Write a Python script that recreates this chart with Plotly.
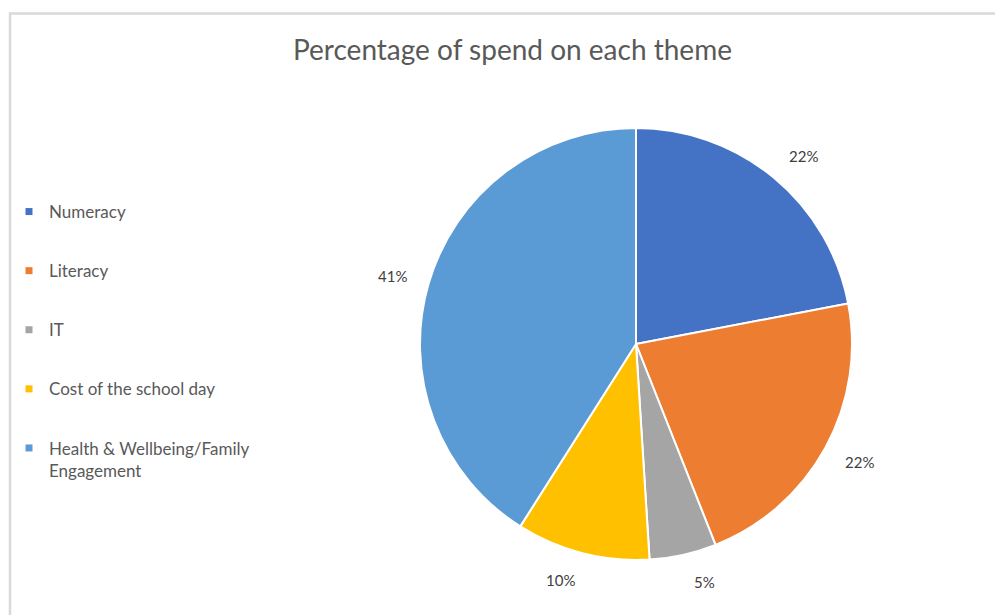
import math
import plotly.graph_objects as go

# Spend share per theme (%)
themes = ["Numeracy", "Literacy", "IT", "Cost of the school day",
          "Health & Wellbeing/Family Engagement"]
legend_text = ["Numeracy", "Literacy", "IT", "Cost of the school day",
               "Health & Wellbeing/Family<br>Engagement"]
spend_pct = [22, 22, 5, 10, 41]
colors = ["#4472C4", "#ED7D31", "#A5A5A5", "#FFC000", "#5B9BD5"]

W, H = 995, 615
FONT = "Lato, 'Open Sans', sans-serif"

# Pie placement in pixels
cx, cy, r = 636, 344, 216


def px_x(v):
    return v / W


def px_y(v):
    return 1 - v / H


fig = go.Figure()

fig.add_trace(go.Pie(
    labels=themes,
    values=spend_pct,
    sort=False,
    direction="clockwise",
    rotation=0,
    marker=dict(colors=colors, line=dict(color="white", width=2)),
    textinfo="none",
    hoverinfo="label+percent",
    showlegend=False,
    domain=dict(x=[px_x(cx - r), px_x(cx + r)], y=[px_y(cy + r), px_y(cy - r)]),
))

# Legend entries with small square keys
for i, (name, col) in enumerate(zip(legend_text, colors)):
    fig.add_trace(go.Scatter(
        x=[None], y=[None], mode="markers", name=name,
        marker=dict(symbol="square", size=7, color=col),
        legendgroup=f"g{i}", showlegend=True, hoverinfo="skip",
    ))

# Percentage labels just outside each slice, at the slice mid-angle
total = sum(spend_pct)
cum = 0.0
gap_r = r + 20
for v in spend_pct:
    mid = (cum + v / 2) / total * 2 * math.pi
    cum += v
    s, c = math.sin(mid), math.cos(mid)
    lx = cx + gap_r * s + math.copysign(17, s)
    ly = cy - gap_r * c - 8 * c
    fig.add_annotation(
        x=px_x(lx), y=px_y(ly), xref="paper", yref="paper",
        text=f"{round(v / total * 100)}%", showarrow=False,
        font=dict(family=FONT, size=15, color="#404040"),
        xanchor="center", yanchor="middle",
    )

# Chart area frame
fig.add_shape(type="rect", xref="paper", yref="paper",
              x0=px_x(10), x1=1.05, y0=-0.05, y1=px_y(13.5),
              line=dict(color="#D9D9D9", width=2.5), fillcolor="rgba(0,0,0,0)")

fig.update_layout(
    width=W, height=H,
    margin=dict(l=0, r=0, t=0, b=0),
    paper_bgcolor="white", plot_bgcolor="white",
    title=dict(text="Percentage of spend on each theme", x=512.5 / W, xanchor="center",
               y=px_y(50), yanchor="middle",
               font=dict(family=FONT, size=28, color="#595959")),
    xaxis=dict(visible=False), yaxis=dict(visible=False),
    legend=dict(x=px_x(9), y=px_y(194), xanchor="left", yanchor="top",
                valign="top", tracegroupgap=34, itemclick=False,
                font=dict(family=FONT, size=17, color="#595959"),
                bgcolor="rgba(0,0,0,0)"),
)

fig.write_html("out.html")
